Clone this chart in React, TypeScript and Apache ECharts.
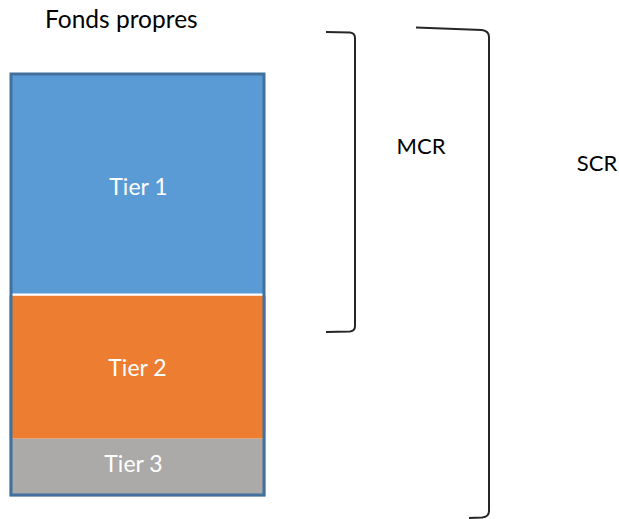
import React, { useEffect, useRef } from "react";
import * as echarts from "echarts";

const categories = ["Fonds propres"];
const tierNames = ["Tier 3", "Tier 2", "Tier 1"];
const tier3 = [58];
const tier2 = [143];
const tier1 = [223];
const totals = categories.map((_, i) => tier1[i] + tier2[i] + tier3[i]);
const bracketLabels = ["MCR", "SCR"];

const FONT = "Lato, 'Noto Sans', sans-serif";

let registered = false;
function registerShapes() {
  if (registered) return;
  registered = true;
  echarts.graphic.registerShape(
    "mcrBracket",
    echarts.graphic.extendPath(
      "M326,32 L350,32.5 Q355,33 355,38 L355,326 Q355,331 350,331.5 L326,332",
      {}
    )
  );
  echarts.graphic.registerShape(
    "scrBracket",
    echarts.graphic.extendPath(
      "M416,27.5 L482,30 Q489,31 489,37 L489,511 Q489,517 482,517.5 L469,518",
      {}
    )
  );
}

export default function App() {
  const ref = useRef<HTMLDivElement>(null);
  useEffect(() => {
    document.body.style.margin = "0";
    registerShapes();
    const chart = echarts.init(ref.current!, null, { renderer: "svg" });
    const labelBase = {
      show: true,
      position: "inside",
      color: "#ffffff",
      fontSize: 23,
      fontFamily: FONT,
      formatter: "{a}",
    };
    chart.setOption({
      animation: false,
      title: {
        text: categories[0],
        left: 45,
        top: 6,
        padding: 0,
        textStyle: { fontSize: 24.5, fontWeight: "normal", color: "#000", fontFamily: FONT },
      },
      grid: { left: 9.5, right: 353.5, top: 72.5, bottom: 22.5 },
      xAxis: {
        type: "category",
        data: categories,
        show: false,
      },
      yAxis: { type: "value", min: 0, max: totals[0], show: false },
      series: [
        {
          name: tierNames[0],
          type: "bar",
          stack: "fp",
          barWidth: "100%",
          data: tier3,
          itemStyle: { color: "#ABAAA8" },
          label: { ...labelBase, offset: [-4, -5] },
        },
        {
          name: tierNames[1],
          type: "bar",
          stack: "fp",
          data: tier2,
          itemStyle: { color: "#ED7D31" },
          label: { ...labelBase },
        },
        {
          name: tierNames[2],
          type: "bar",
          stack: "fp",
          data: tier1,
          itemStyle: { color: "#5B9BD5", borderColor: "#ffffff", borderWidth: 2 },
          label: { ...labelBase, offset: [1, 2] },
        },
        {
          name: "total",
          type: "bar",
          barGap: "-100%",
          barWidth: "100%",
          data: totals,
          silent: true,
          itemStyle: { color: "transparent", borderColor: "#41719C", borderWidth: 3 },
          z: 5,
        },
      ],
      graphic: [
        {
          type: "mcrBracket",
          x: 0,
          y: 0,
          style: { stroke: "#262626", lineWidth: 2, fill: "none" },
        },
        {
          type: "scrBracket",
          x: 0,
          y: 0,
          style: { stroke: "#262626", lineWidth: 2, fill: "none" },
        },
        {
          type: "text",
          x: 421,
          y: 145,
          style: {
            text: bracketLabels[0],
            fill: "#000",
            fontSize: 22,
            fontFamily: FONT,
            align: "center",
            verticalAlign: "middle",
          },
        },
        {
          type: "text",
          x: 597,
          y: 162,
          style: {
            text: bracketLabels[1],
            fill: "#000",
            fontSize: 22,
            fontFamily: FONT,
            align: "center",
            verticalAlign: "middle",
          },
        },
      ],
    });
    return () => chart.dispose();
  }, []);
  return (
    <div
      ref={ref}
      style={{ position: "absolute", left: 0, top: 0, width: 619, height: 519 }}
    />
  );
}
